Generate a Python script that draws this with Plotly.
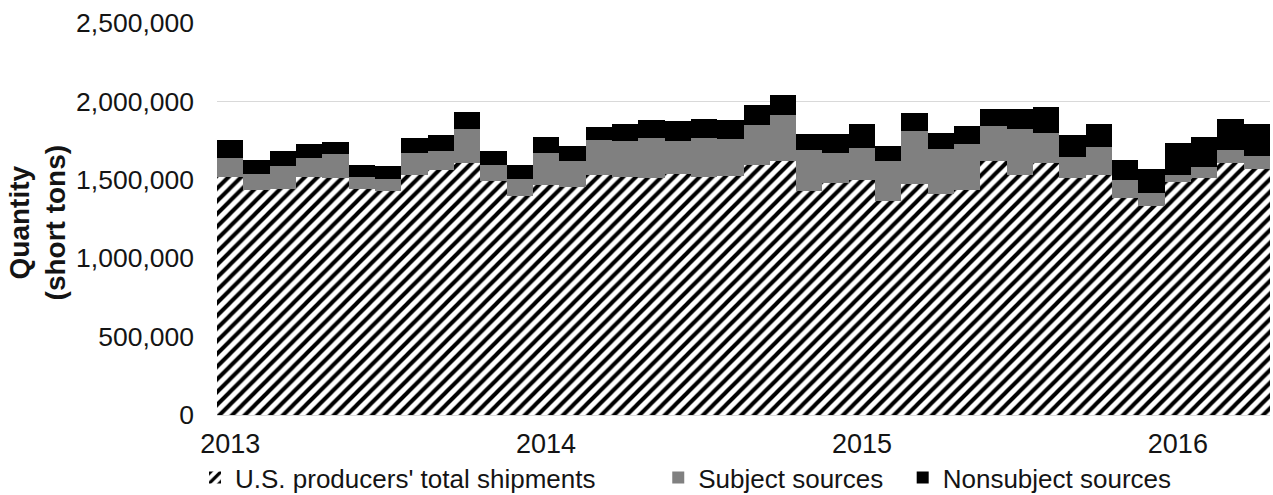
import plotly.graph_objects as go

# Monthly apparent U.S. consumption, Jan 2013 - Apr 2016 (short tons)
months = [f"{y}-{m:02d}" for y in range(2013, 2017) for m in range(1, 13)][:40]

us_producers = [
    1515000, 1436000, 1443000, 1515000, 1509000, 1443000, 1428000, 1532000, 1564000, 1607000,
    1494000, 1394000, 1464000, 1451000, 1530000, 1521000, 1511000, 1537000, 1519000, 1526000,
    1596000, 1622000, 1426000, 1481000, 1500000, 1368000, 1473000, 1411000, 1436000, 1622000,
    1532000, 1604000, 1509000, 1532000, 1387000, 1336000, 1483000, 1511000, 1607000, 1566000,
]
subject = [
    121000, 103000, 145000, 121000, 155000, 78000, 79000, 139000, 121000, 217000,
    102000, 113000, 207000, 171000, 224000, 224000, 255000, 208000, 247000, 234000,
    251000, 293000, 266000, 190000, 200000, 254000, 336000, 283000, 292000, 219000,
    292000, 194000, 134000, 177000, 111000, 79000, 47000, 68000, 85000, 86000,
]
nonsubject = [
    115000, 89000, 97000, 90000, 79000, 75000, 81000, 95000, 98000, 106000,
    89000, 87000, 104000, 95000, 85000, 113000, 115000, 127000, 124000, 121000,
    132000, 123000, 100000, 121000, 158000, 95000, 115000, 106000, 113000, 112000,
    129000, 166000, 140000, 149000, 130000, 155000, 204000, 196000, 196000, 204000,
]

year_ticks = [0, 12, 24, 36]
year_labels = ["2013", "2014", "2015", "2016"]

x = list(range(len(months)))
font_family = "Liberation Sans, Arial, sans-serif"
text_color = "#141414"
NBSP = "\u00a0"  # trailing padding widens the gap between legend entries

fig = go.Figure()
fig.add_trace(go.Bar(
    x=x, y=us_producers, name="U.S. producers' total shipments" + NBSP * 8,
    marker=dict(color="white", line=dict(width=0),
                pattern=dict(shape="/", fgcolor="black", bgcolor="white",
                             size=9, solidity=0.45, fillmode="replace", fgopacity=1)),
    customdata=months,
))
fig.add_trace(go.Bar(
    x=x, y=subject, name="Subject sources" + NBSP * 2,
    marker=dict(color="#808080", line=dict(width=0)),
    customdata=months,
))
fig.add_trace(go.Bar(
    x=x, y=nonsubject, name="Nonsubject sources",
    marker=dict(color="#000000", line=dict(width=0)),
    customdata=months,
))

fig.update_layout(
    width=1273, height=495,
    barmode="stack", bargap=0,
    plot_bgcolor="white", paper_bgcolor="white",
    margin=dict(l=217, r=3, t=23, b=80, autoexpand=False),
    font=dict(family=font_family, size=27, color=text_color),
    legend=dict(orientation="h", x=0.4454, xanchor="center", y=-0.16, yanchor="middle",
                font=dict(size=26), itemwidth=30, traceorder="normal"),
    xaxis=dict(range=[-0.5, len(months) - 0.5], tickmode="array",
               tickvals=year_ticks, ticktext=year_labels,
               showgrid=False, showline=True, linecolor="#d9d9d9",
               ticks="", ticklabelstandoff=5, tickfont=dict(size=27)),
    yaxis=dict(range=[0, 2500000], tickvals=[0, 500000, 1000000, 1500000, 2000000, 2500000],
               tickformat=",d", showgrid=True, gridcolor="#d9d9d9", gridwidth=1,
               zeroline=False, showline=False, ticks="", ticklabelstandoff=22,
               tickfont=dict(size=26.5)),
    showlegend=True,
)

fig.add_annotation(
    text="<b>Quantity<br>(short tons)</b>", textangle=-90,
    xref="paper", yref="paper", x=(37.5 - 217) / 1053, y=0.49,
    xanchor="center", yanchor="middle", showarrow=False,
    font=dict(size=28, color=text_color, family=font_family),
)

fig.write_html("out.html")
